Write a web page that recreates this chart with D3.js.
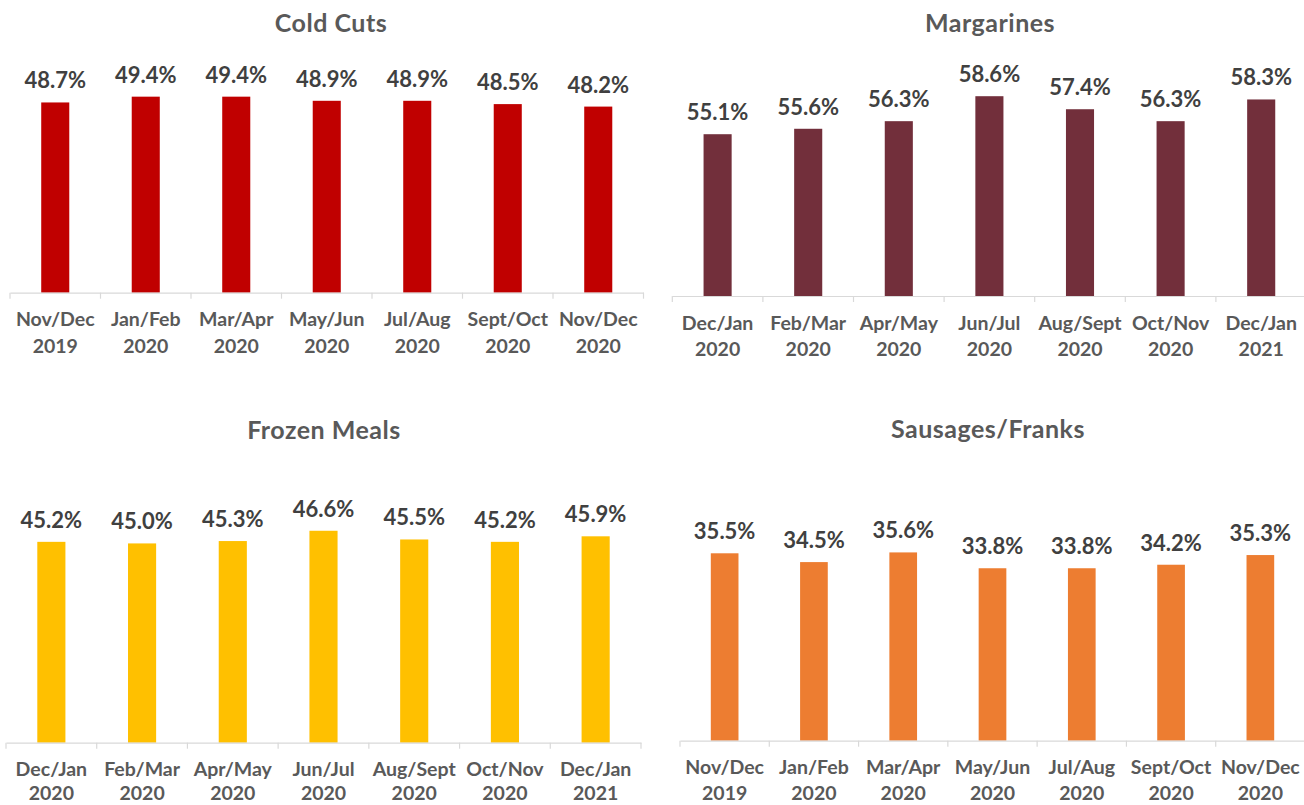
<!DOCTYPE html>
<html>
<head>
<meta charset="utf-8">
<script src="https://cdn.jsdelivr.net/npm/d3@7/dist/d3.min.js"></script>
<style>
  html, body { margin: 0; padding: 0; background: #ffffff; }
  svg { display: block; font-family: Lato, "Open Sans", sans-serif; }
</style>
</head>
<body>
<svg id="chart" width="1304" height="805"></svg>
<script>
// Two-month reporting periods (label line 1 = months, line 2 = year)
const periodsNovDec = ["Nov/Dec 2019", "Jan/Feb 2020", "Mar/Apr 2020", "May/Jun 2020", "Jul/Aug 2020", "Sept/Oct 2020", "Nov/Dec 2020"];
const periodsDecJan = ["Dec/Jan 2020", "Feb/Mar 2020", "Apr/May 2020", "Jun/Jul 2020", "Aug/Sept 2020", "Oct/Nov 2020", "Dec/Jan 2021"];

// Share values (%) per category
const coldCuts       = [48.7, 49.4, 49.4, 48.9, 48.9, 48.5, 48.2];
const margarines     = [55.1, 55.6, 56.3, 58.6, 57.4, 56.3, 58.3];
const frozenMeals    = [45.2, 45.0, 45.3, 46.6, 45.5, 45.2, 45.9];
const sausagesFranks = [35.5, 34.5, 35.6, 33.8, 33.8, 34.2, 35.3];

// Value-axis bounds (%) per panel
const yBoundsColdCuts   = [25.7, 50];
const yBoundsMargarines = [40.2, 60];
const yBoundsFrozen     = [19.8, 48];
const yBoundsSausages   = [14.2, 40];

// Panel layout: axis span, baseline, plot height, title and label placement
const panels = [
  { title: "Cold Cuts", periods: periodsNovDec, values: coldCuts, color: "#C00000",
    yBounds: yBoundsColdCuts, x0: 10, x1: 643.5, baseY: 292.7, plotH: 201,
    titleX: 331, titleY: 31.5, line1: 33.5, line2: 60 },
  { title: "Margarines", periods: periodsDecJan, values: margarines, color: "#722F3B",
    yBounds: yBoundsMargarines, x0: 672.3, x1: 1306.5, baseY: 296, plotH: 215,
    titleX: 990, titleY: 31.5, line1: 34, line2: 60 },
  { title: "Frozen Meals", periods: periodsDecJan, values: frozenMeals, color: "#FFC000",
    yBounds: yBoundsFrozen, x0: 6, x1: 641, baseY: 742.7, plotH: 223,
    titleX: 324, titleY: 439, line1: 33, line2: 57 },
  { title: "Sausages/Franks", periods: periodsNovDec, values: sausagesFranks, color: "#ED7D31",
    yBounds: yBoundsSausages, x0: 680, x1: 1305, baseY: 740.7, plotH: 227,
    titleX: 988, titleY: 437.5, line1: 33.5, line2: 59 }
];

const svg = d3.select("#chart");
const fmt = d3.format(".1f");
const axisColor = "#D9D9D9";

panels.forEach(p => {
  const g = svg.append("g");
  const n = p.periods.length;
  const pad = 0.69;

  const x = d3.scaleBand()
    .domain(p.periods)
    .range([p.x0, p.x1])
    .paddingInner(pad)
    .paddingOuter(pad / 2);

  const y = d3.scaleLinear()
    .domain(p.yBounds)
    .range([p.baseY, p.baseY - p.plotH]);

  // Title
  g.append("text")
    .attr("x", p.titleX)
    .attr("y", p.titleY)
    .attr("text-anchor", "middle")
    .attr("font-size", 25)
    .attr("font-weight", 700)
    .attr("letter-spacing", 0.5)
    .attr("fill", "#595959")
    .text(p.title);

  // Bars
  g.selectAll("rect.bar")
    .data(p.values)
    .join("rect")
    .attr("class", "bar")
    .attr("x", (d, i) => x(p.periods[i]))
    .attr("width", x.bandwidth())
    .attr("y", d => y(d))
    .attr("height", d => y(p.yBounds[0]) - y(d))
    .attr("fill", p.color);

  // Value labels
  g.selectAll("text.val")
    .data(p.values)
    .join("text")
    .attr("class", "val")
    .attr("x", (d, i) => x(p.periods[i]) + x.bandwidth() / 2)
    .attr("y", d => y(d) - 14)
    .attr("text-anchor", "middle")
    .attr("font-size", 22)
    .attr("font-weight", 700)
    .attr("fill", "#404040")
    .text(d => fmt(d) + "%");

  // Category axis
  const axis = g.append("g")
    .attr("transform", `translate(0,${p.baseY})`)
    .call(d3.axisBottom(x).tickSize(0).tickSizeOuter(0));

  axis.select(".domain").attr("stroke", axisColor).attr("stroke-width", 1.2);

  axis.selectAll(".tick text")
    .attr("y", null)
    .attr("dy", null)
    .attr("font-family", "Lato, 'Open Sans', sans-serif")
    .attr("font-size", 19.5)
    .attr("font-weight", 700)
    .attr("fill", "#595959")
    .each(function(d) {
      const parts = d.split(" ");
      const t = d3.select(this).text(null);
      t.append("tspan").attr("x", 0).attr("y", p.line1).text(parts[0]);
      t.append("tspan").attr("x", 0).attr("y", p.line2).text(parts[1]);
    });

  // Category boundary tick marks
  const step = x.step();
  axis.selectAll("line.bound")
    .data(d3.range(n + 1))
    .join("line")
    .attr("class", "bound")
    .attr("x1", i => p.x0 + i * step)
    .attr("x2", i => p.x0 + i * step)
    .attr("y1", 0)
    .attr("y2", 6)
    .attr("stroke", axisColor)
    .attr("stroke-width", 1.2);
});
</script>
</body>
</html>
